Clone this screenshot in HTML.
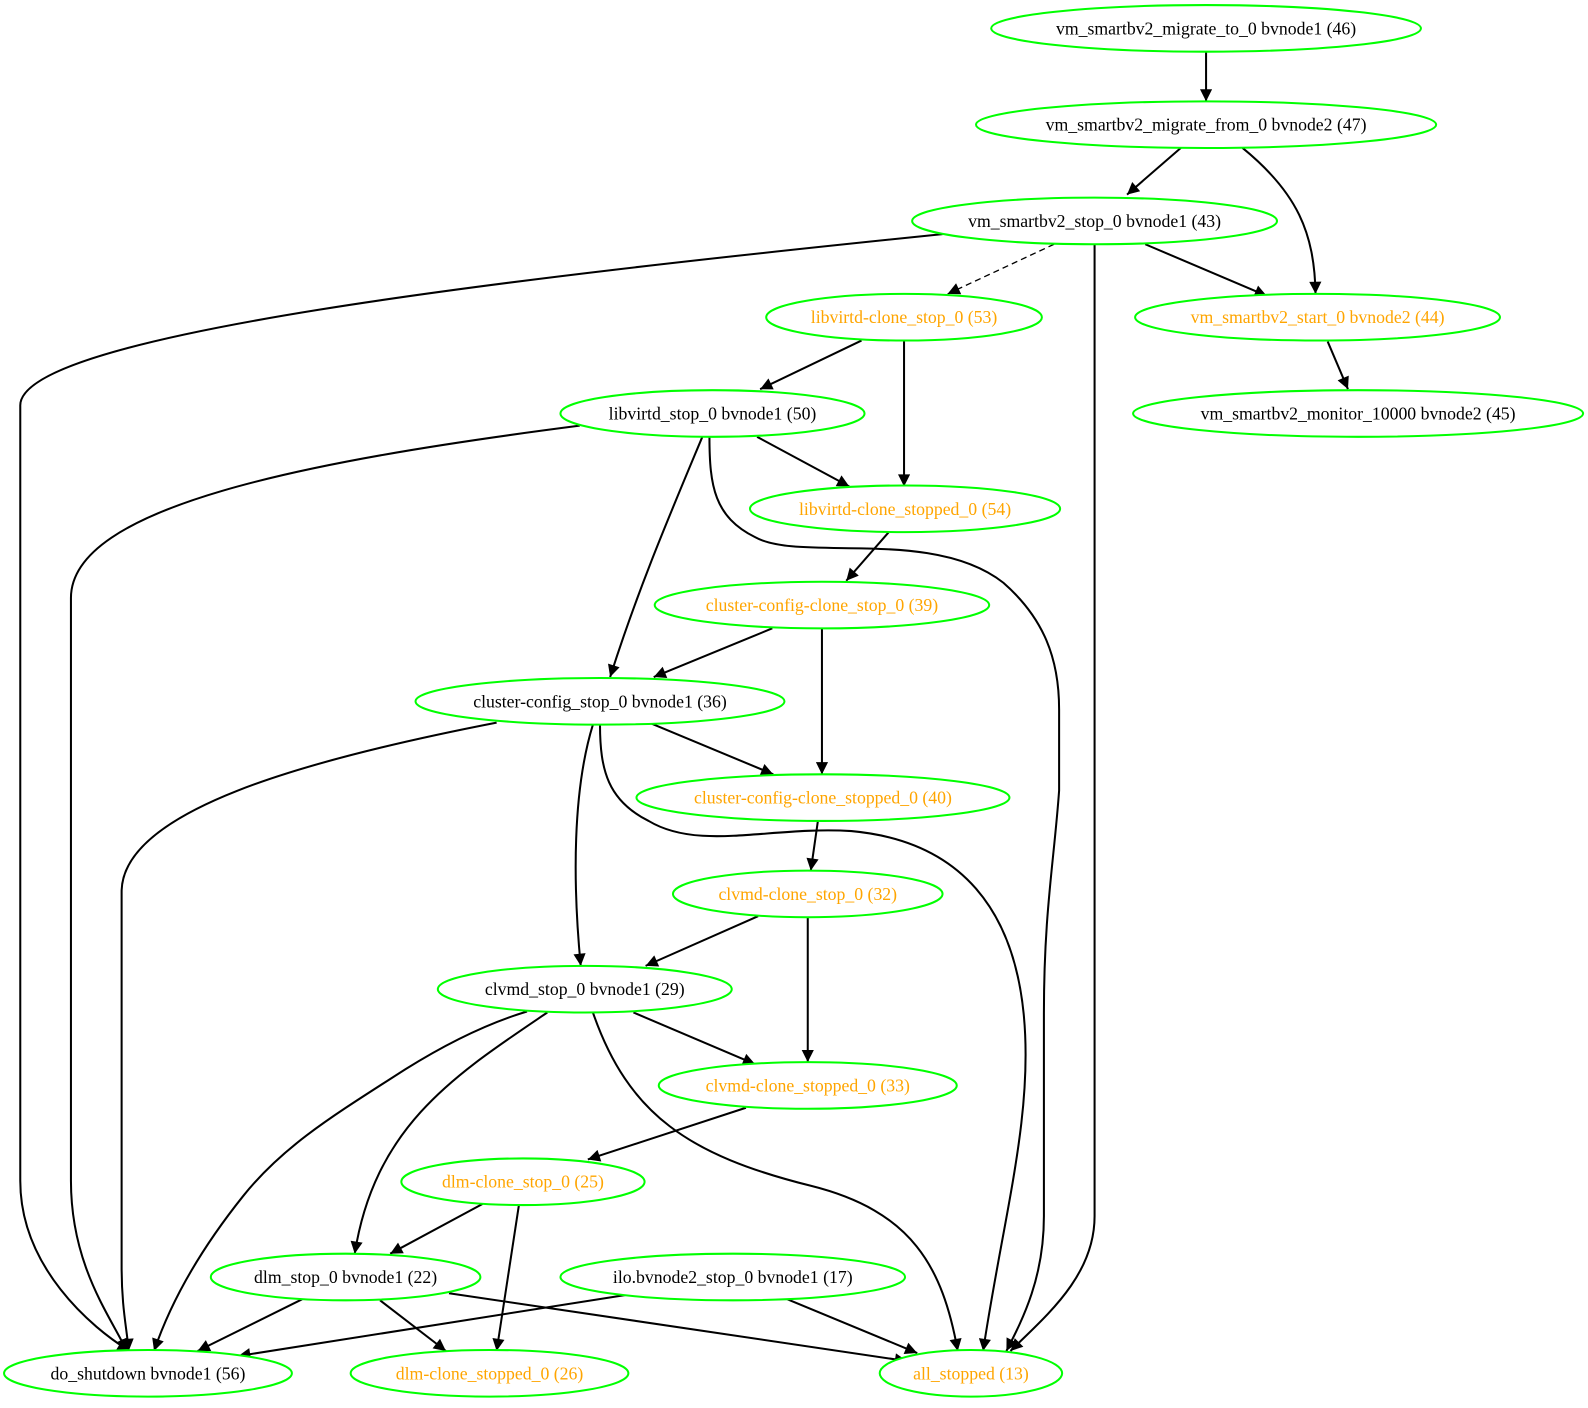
<!DOCTYPE html>
<html><head><meta charset="utf-8"><style>
html,body{margin:0;padding:0;background:#fff;}
svg text{font-family:"Liberation Serif",serif;font-size:17.5px;text-anchor:middle;dominant-baseline:central;}
</style></head><body>
<svg width="1588" height="1403" viewBox="0 0 1588 1403" xmlns="http://www.w3.org/2000/svg">
<defs>
<marker id="b" viewBox="0 0 10 10" refX="10" refY="5" markerWidth="13" markerHeight="12" markerUnits="userSpaceOnUse" orient="auto"><path d="M0,0L10,5L0,10z" fill="#000"/></marker></defs>
<g transform="scale(1.0135)">
<g fill="none" stroke="#000" stroke-width="2" marker-end="url(#b)">
<path d="M1190,50L1190,100"/>
<path d="M1165,146L1112,192"/>
<path d="M1226,146C1280,190 1297,230 1298,290"/>
<path d="M930,231C500,275 20,330 20,400L20,1165C20,1250 90,1310 128,1333"/>
<path d="M1040,241L935,290" stroke-dasharray="6,4" stroke-width="1.3"/>
<path d="M1080,241L1080,1200C1080,1260 1030,1300 997,1333"/>
<path d="M1130,241L1250,292"/>
<path d="M850,336L750,384"/>
<path d="M892,336L892,480"/>
<path d="M1310,337L1330,384"/>
<path d="M572,420C300,455 70,500 70,590L70,1165C70,1250 110,1300 125,1333"/>
<path d="M693,431C660,510 630,580 602,668"/>
<path d="M700,431C700,480 705,510 745,530C790,555 920,520 990,575C1030,610 1045,650 1045,700L1045,780C1040,850 1030,900 1030,1000L1030,1200C1030,1260 1010,1300 993,1333"/>
<path d="M747,431L838,480"/>
<path d="M877,525L835,573"/>
<path d="M762,620L645,668"/>
<path d="M811,620L811,764"/>
<path d="M490,713C300,750 120,800 120,880L120,1250C120,1290 125,1310 127,1333"/>
<path d="M585,715C565,780 565,870 573,953"/>
<path d="M592,715C592,760 600,790 640,810C690,840 760,815 840,820C950,830 1000,900 1010,1000C1020,1100 990,1200 970,1333"/>
<path d="M643,714L763,764"/>
<path d="M807,810L800,859"/>
<path d="M748,904L637,953"/>
<path d="M797,905L797,1048"/>
<path d="M520,998C480,1010 440,1030 400,1055C330,1100 280,1130 240,1180C200,1230 170,1280 152,1333"/>
<path d="M540,999C450,1060 370,1110 350,1237"/>
<path d="M585,999C620,1100 680,1140 800,1170C900,1195 930,1250 945,1333"/>
<path d="M625,999L745,1050"/>
<path d="M736,1093L580,1144"/>
<path d="M476,1188L385,1237"/>
<path d="M512,1189L490,1333"/>
<path d="M298,1282L195,1333"/>
<path d="M375,1283L440,1333"/>
<path d="M443,1276L895,1343"/>
<path d="M622,1277L235,1338"/>
<path d="M777,1282L905,1335"/>
</g>
<g fill="#fff" stroke="#00ff00" stroke-width="2">
<ellipse cx="1190" cy="28" rx="212" ry="23"/>
<ellipse cx="1190" cy="123" rx="227" ry="23"/>
<ellipse cx="1080" cy="218" rx="180" ry="23"/>
<ellipse cx="892" cy="313" rx="136" ry="23"/>
<ellipse cx="1300" cy="313" rx="180" ry="23"/>
<ellipse cx="1340" cy="408" rx="222" ry="23"/>
<ellipse cx="703" cy="408" rx="150" ry="23"/>
<ellipse cx="893" cy="502" rx="153" ry="23"/>
<ellipse cx="811" cy="597" rx="165" ry="23"/>
<ellipse cx="592" cy="692" rx="182" ry="23"/>
<ellipse cx="812" cy="787" rx="184" ry="23"/>
<ellipse cx="797" cy="882" rx="133" ry="23"/>
<ellipse cx="577" cy="976" rx="145" ry="23"/>
<ellipse cx="797" cy="1071" rx="147" ry="23"/>
<ellipse cx="516" cy="1166" rx="120" ry="23"/>
<ellipse cx="341" cy="1260" rx="133" ry="23"/>
<ellipse cx="723" cy="1260" rx="170" ry="23"/>
<ellipse cx="146" cy="1355" rx="142" ry="23"/>
<ellipse cx="483" cy="1355" rx="137" ry="23"/>
<ellipse cx="958" cy="1355" rx="90" ry="23"/>
</g>
<g fill="#000">
<text x="1190" y="28">vm_smartbv2_migrate_to_0 bvnode1 (46)</text>
<text x="1190" y="123">vm_smartbv2_migrate_from_0 bvnode2 (47)</text>
<text x="1080" y="218">vm_smartbv2_stop_0 bvnode1 (43)</text>
<text x="1340" y="408">vm_smartbv2_monitor_10000 bvnode2 (45)</text>
<text x="703" y="408">libvirtd_stop_0 bvnode1 (50)</text>
<text x="592" y="692">cluster-config_stop_0 bvnode1 (36)</text>
<text x="577" y="976">clvmd_stop_0 bvnode1 (29)</text>
<text x="341" y="1260">dlm_stop_0 bvnode1 (22)</text>
<text x="723" y="1260">ilo.bvnode2_stop_0 bvnode1 (17)</text>
<text x="146" y="1355">do_shutdown bvnode1 (56)</text>
</g>
<g fill="#ffa500">
<text x="892" y="313">libvirtd-clone_stop_0 (53)</text>
<text x="1300" y="313">vm_smartbv2_start_0 bvnode2 (44)</text>
<text x="893" y="502">libvirtd-clone_stopped_0 (54)</text>
<text x="811" y="597">cluster-config-clone_stop_0 (39)</text>
<text x="812" y="787">cluster-config-clone_stopped_0 (40)</text>
<text x="797" y="882">clvmd-clone_stop_0 (32)</text>
<text x="797" y="1071">clvmd-clone_stopped_0 (33)</text>
<text x="516" y="1166">dlm-clone_stop_0 (25)</text>
<text x="483" y="1355">dlm-clone_stopped_0 (26)</text>
<text x="958" y="1355">all_stopped (13)</text>
</g>
</g>
</svg>
</body></html>
